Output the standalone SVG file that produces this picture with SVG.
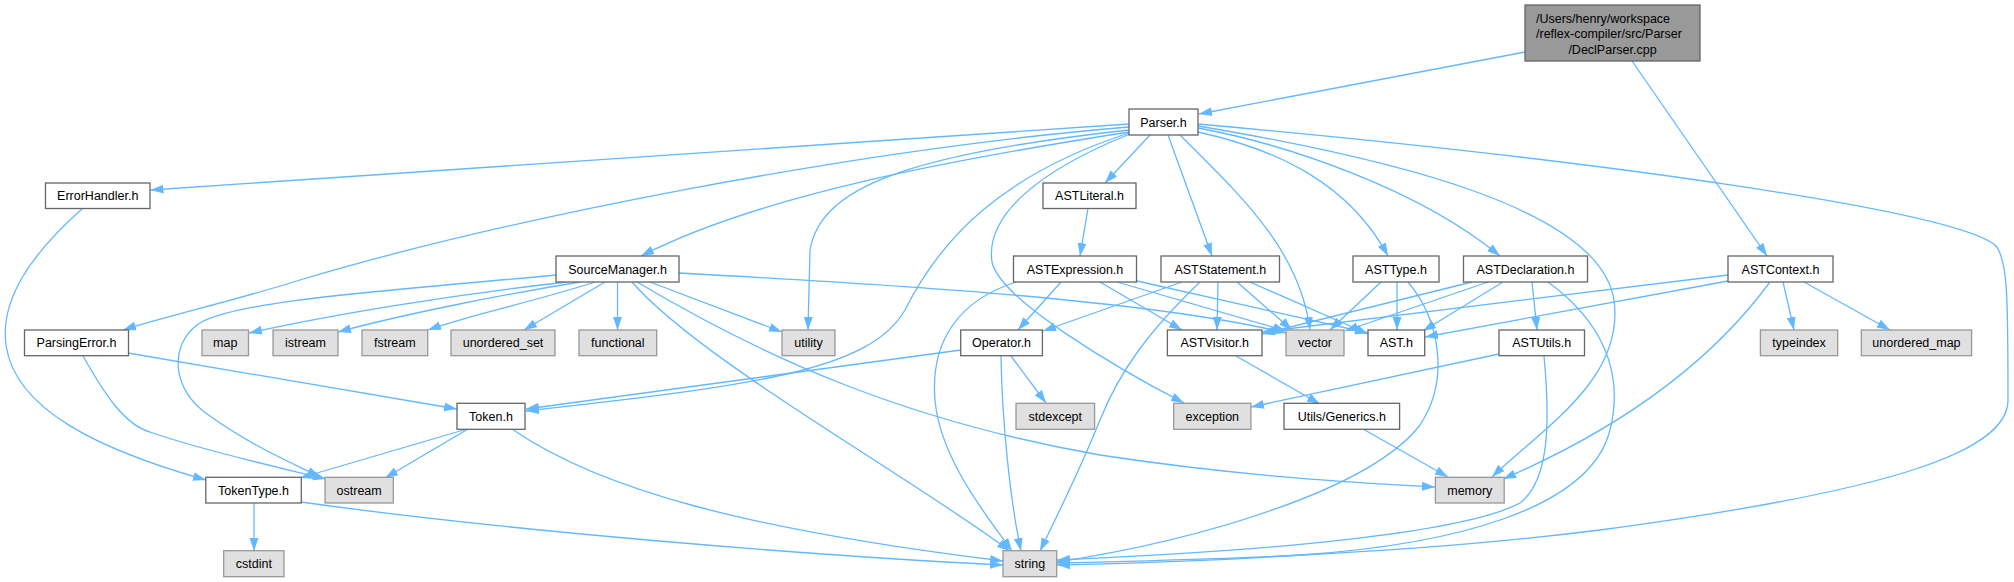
<svg xmlns="http://www.w3.org/2000/svg" width="2014" height="582" viewBox="0 0 2014 582">
<defs>
<style>
.n rect{fill:#ffffff;stroke:#666666;stroke-width:1.3}
.s rect{fill:#e0e0e0;stroke:#999999;stroke-width:1.3}
.m rect{fill:#999999;stroke:#666666;stroke-width:1.3}
text{font-family:"Liberation Sans",Arial,Helvetica,sans-serif;font-size:12.5px;fill:#000000;text-anchor:middle}
.e path{fill:none;stroke:#63b8ff;stroke-width:1.3;marker-end:url(#a)}
</style>
<marker id="a" markerUnits="userSpaceOnUse" markerWidth="14" markerHeight="10" refX="13" refY="4.5" orient="auto">
<path d="M0,0 L13,4.5 L0,9 z" fill="#63b8ff" stroke="none"/>
</marker>
</defs>
<rect width="2014" height="582" fill="#ffffff"/>
<g class="e" id="edges">
<path d="M1525,52 L1199,114"/>
<path d="M1632,61 L1767,256"/>
<path d="M1129,124 L150.5,190"/>
<path d="M1129,127 C850,150 500,220 300,280 C230,302 170,315 123,330"/>
<path d="M1129,132 C950,160 760,195 641,256"/>
<path d="M1129,133 C1000,175 940,240 905,310 C870,370 760,385 526,411"/>
<path d="M1129,130 C900,155 820,190 810,250 L808,330"/>
<path d="M1150,135 L1105,183"/>
<path d="M1130,134 C1040,170 985,215 992,262 C1000,300 1120,370 1184,403"/>
<path d="M1168,135 L1212,256"/>
<path d="M1180,135 C1240,195 1300,250 1310,330"/>
<path d="M1198,132 C1280,150 1350,185 1388,256"/>
<path d="M1198,128 C1290,145 1420,190 1500,256"/>
<path d="M1198,126 C1400,160 1600,210 1614,300 C1625,380 1540,430 1492,477"/>
<path d="M1198,124 C1600,160 1950,210 1995,245 C2008,258 2008,300 2008,400 C2008,450 1900,490 1600,530 C1400,555 1200,560 1057,563"/>
<path d="M567,282 C450,295 330,315 249,333"/>
<path d="M580,282 C500,295 400,315 338,332"/>
<path d="M595,282 C540,300 470,315 428,330"/>
<path d="M605,282 L524,330"/>
<path d="M617.5,282 L617.5,330"/>
<path d="M650,282 L782,332"/>
<path d="M632,282 C700,360 900,470 1010,551"/>
<path d="M637,282 C760,355 900,420 1100,455 C1250,478 1380,484 1435,487"/>
<path d="M556,275 C400,290 230,300 197,325 C170,345 170,390 210,416 C250,445 290,462 320,477"/>
<path d="M679,273 C900,285 1150,300 1286,333"/>
<path d="M83,208 C30,255 0,300 6,345 C15,410 100,450 206,480"/>
<path d="M128,353 L457,409"/>
<path d="M83,356 C105,395 125,425 150,432 C200,450 290,470 326,479"/>
<path d="M467,429 L300,478"/>
<path d="M468,429 L385,478"/>
<path d="M512,429 C600,490 750,530 1003,561"/>
<path d="M254,503 L254,551"/>
<path d="M301,502 C500,530 800,555 1003,565"/>
<path d="M1088,208 L1080,256"/>
<path d="M1061,282 L1018,330"/>
<path d="M1016,282 C960,300 930,340 935,400 C940,460 990,520 1012,551"/>
<path d="M1100,282 L1182,330"/>
<path d="M1117,282 L1286,331"/>
<path d="M1137,281 L1368,333"/>
<path d="M1182,282 L1043,331"/>
<path d="M1200,282 C1150,330 1120,370 1100,420 C1080,470 1055,520 1040,551"/>
<path d="M1218,282 L1217,330"/>
<path d="M1237,282 L1292,330"/>
<path d="M1250,282 L1368,334"/>
<path d="M961,350 L526,409"/>
<path d="M1011,356 L1046,403"/>
<path d="M1001,356 C1002,420 1010,500 1021,551"/>
<path d="M1236,356 L1320,404"/>
<path d="M1363,429 L1448,477"/>
<path d="M1381,282 L1330,330"/>
<path d="M1397,282 L1397,330"/>
<path d="M1408,282 C1440,320 1450,380 1420,425 C1370,490 1200,540 1057,562"/>
<path d="M1472,282 L1262,334"/>
<path d="M1488,282 L1345,331"/>
<path d="M1503,282 L1423,331"/>
<path d="M1532,282 L1537,330"/>
<path d="M1548,282 C1600,320 1625,370 1610,430 C1590,510 1450,545 1300,555 C1200,562 1100,564 1057,565"/>
<path d="M1728,275 L1262,332"/>
<path d="M1728,281 L1425,337"/>
<path d="M1783,282 L1794,330"/>
<path d="M1804,282 L1890,330"/>
<path d="M1770,282 C1720,350 1640,420 1503,479"/>
<path d="M1499,354 L1251,407"/>
<path d="M1544,356 C1550,420 1550,480 1520,503 C1470,530 1300,550 1057,560"/>
</g>
<g id="main" class="m"><rect x="1525" y="5" width="175" height="56"/>
<text x="1536" y="22.5" style="text-anchor:start">/Users/henry/workspace</text>
<text x="1536" y="38" style="text-anchor:start">/reflex-compiler/src/Parser</text>
<text x="1612.5" y="53.5">/DeclParser.cpp</text></g>
<g id="parser" class="n"><rect x="1129" y="109" width="69" height="26"/><text x="1163.5" y="126.5">Parser.h</text></g>
<g id="errorhandler" class="n"><rect x="45.5" y="183" width="104.5" height="25.5"/><text x="97.75" y="200">ErrorHandler.h</text></g>
<g id="astliteral" class="n"><rect x="1043" y="183" width="93" height="25.5"/><text x="1089.5" y="200">ASTLiteral.h</text></g>
<g id="sourcemanager" class="n"><rect x="556" y="256" width="123" height="26"/><text x="617.5" y="273.5">SourceManager.h</text></g>
<g id="astexpression" class="n"><rect x="1013.5" y="256" width="123" height="26"/><text x="1075" y="273.5">ASTExpression.h</text></g>
<g id="aststatement" class="n"><rect x="1161" y="256" width="118.5" height="26"/><text x="1220.25" y="273.5">ASTStatement.h</text></g>
<g id="asttype" class="n"><rect x="1353" y="256" width="86" height="26"/><text x="1396" y="273.5">ASTType.h</text></g>
<g id="astdeclaration" class="n"><rect x="1463.5" y="256" width="124" height="26"/><text x="1525.5" y="273.5">ASTDeclaration.h</text></g>
<g id="astcontext" class="n"><rect x="1728" y="256" width="105" height="26"/><text x="1780.5" y="273.5">ASTContext.h</text></g>
<g id="parsingerror" class="n"><rect x="24.5" y="330" width="104" height="25.7"/><text x="76.5" y="347.3">ParsingError.h</text></g>
<g id="map" class="s"><rect x="202" y="330" width="46.5" height="25.7"/><text x="225.25" y="347.3">map</text></g>
<g id="istream" class="s"><rect x="273" y="330" width="65" height="25.7"/><text x="305.5" y="347.3">istream</text></g>
<g id="fstream" class="s"><rect x="362" y="330" width="65.7" height="25.7"/><text x="394.85" y="347.3">fstream</text></g>
<g id="unordered_set" class="s"><rect x="451" y="330" width="104" height="25.7"/><text x="503" y="347.3">unordered_set</text></g>
<g id="functional" class="s"><rect x="579" y="330" width="77.7" height="25.7"/><text x="617.85" y="347.3">functional</text></g>
<g id="utility" class="s"><rect x="782" y="330" width="53" height="25.7"/><text x="808.5" y="347.3">utility</text></g>
<g id="operator" class="n"><rect x="960.7" y="330" width="81.7" height="25.7"/><text x="1001.55" y="347.3">Operator.h</text></g>
<g id="astvisitor" class="n"><rect x="1167.4" y="330" width="94.6" height="25.7"/><text x="1214.7" y="347.3">ASTVisitor.h</text></g>
<g id="vector" class="s"><rect x="1286" y="330" width="58" height="25.7"/><text x="1315" y="347.3">vector</text></g>
<g id="ast" class="n"><rect x="1368" y="330" width="56.7" height="25.7"/><text x="1396.35" y="347.3">AST.h</text></g>
<g id="astutils" class="n"><rect x="1499" y="330" width="85.5" height="25.7"/><text x="1541.75" y="347.3">ASTUtils.h</text></g>
<g id="typeindex" class="s"><rect x="1760.4" y="330" width="77.3" height="25.7"/><text x="1799.05" y="347.3">typeindex</text></g>
<g id="unordered_map" class="s"><rect x="1861.3" y="330" width="110.3" height="25.7"/><text x="1916.45" y="347.3">unordered_map</text></g>
<g id="token" class="n"><rect x="457" y="403.3" width="68" height="26"/><text x="491" y="420.8">Token.h</text></g>
<g id="stdexcept" class="s"><rect x="1016" y="403.3" width="78.6" height="26"/><text x="1055.3" y="420.8">stdexcept</text></g>
<g id="exception" class="s"><rect x="1173.7" y="403.3" width="77.2" height="26"/><text x="1212.3" y="420.8">exception</text></g>
<g id="generics" class="n"><rect x="1284" y="403.3" width="115.6" height="26"/><text x="1341.8" y="420.8">Utils/Generics.h</text></g>
<g id="tokentype" class="n"><rect x="205.8" y="477.3" width="95.5" height="25.7"/><text x="253.55" y="494.6">TokenType.h</text></g>
<g id="ostream" class="s"><rect x="325" y="477.3" width="68.3" height="25.7"/><text x="359.15" y="494.6">ostream</text></g>
<g id="memory" class="s"><rect x="1435.4" y="477.3" width="68.8" height="25.7"/><text x="1469.8" y="494.6">memory</text></g>
<g id="cstdint" class="s"><rect x="223.7" y="550.7" width="60.3" height="26"/><text x="253.85" y="568.2">cstdint</text></g>
<g id="string" class="s"><rect x="1003" y="550.7" width="53.7" height="26"/><text x="1029.85" y="568.2">string</text></g>
</svg>
